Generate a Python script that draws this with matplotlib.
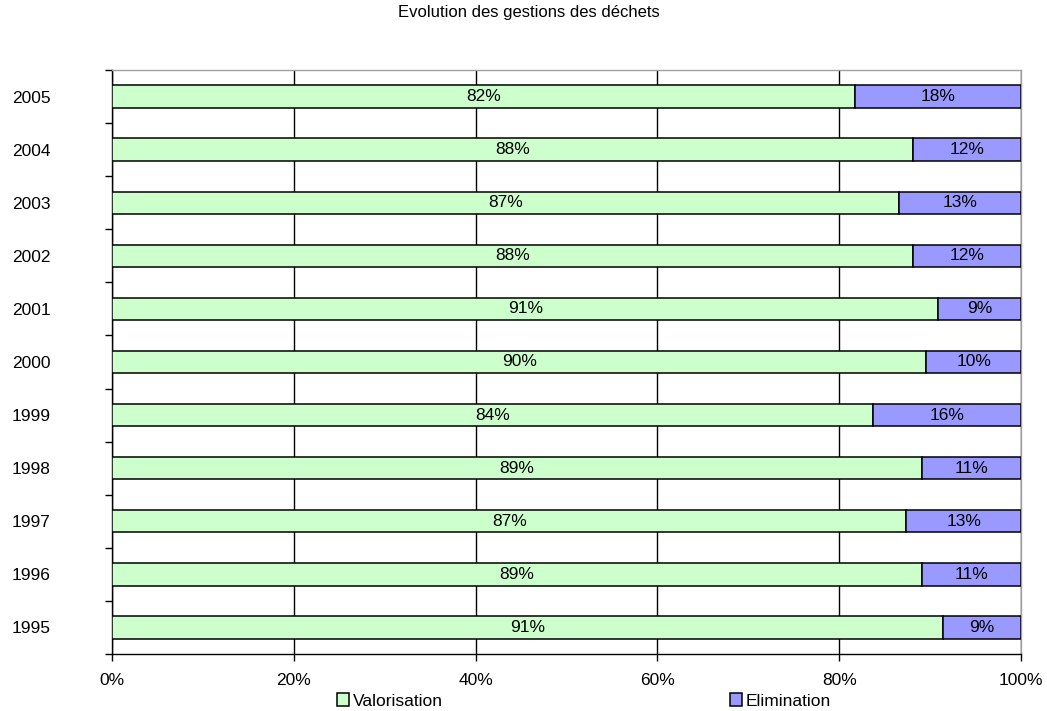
import matplotlib
matplotlib.use("Agg")
import matplotlib.pyplot as plt
from matplotlib.ticker import FixedLocator, FuncFormatter

years = ["1995", "1996", "1997", "1998", "1999", "2000", "2001", "2002", "2003", "2004", "2005"]
valorisation = [91.4, 89.1, 87.4, 89.1, 83.7, 89.6, 90.9, 88.1, 86.6, 88.1, 81.7]
elimination = [8.6, 10.9, 12.6, 10.9, 16.3, 10.4, 9.1, 11.9, 13.4, 11.9, 18.3]
series_names = ["Valorisation", "Elimination"]
colors = ["#CCFFCC", "#9999FF"]
title = "Evolution des gestions des déchets"

plt.rcParams['font.family'] = ['Liberation Sans', 'DejaVu Sans']

fig = plt.figure(figsize=(10.47, 7.11), dpi=100)
ax = fig.add_axes([112/1047, 1-654/711, (1021-112)/1047, (654-70)/711])

pos = list(range(len(years)))
h = 0.42
b1 = ax.barh(pos, valorisation, height=h, color=colors[0], edgecolor="black", linewidth=1.1, label=series_names[0], zorder=3)
b2 = ax.barh(pos, elimination, left=valorisation, height=h, color=colors[1], edgecolor="black", linewidth=1.1, label=series_names[1], zorder=3)

for i in pos:
    ax.text(valorisation[i] / 2, i, f"{round(valorisation[i])}%", ha="center", va="center", fontsize=12.5, zorder=4)
    ax.text(valorisation[i] + elimination[i] / 2, i, f"{round(elimination[i])}%", ha="center", va="center", fontsize=12.5, zorder=4)

ax.set_xlim(0, 100)
ax.set_ylim(-0.5, len(years) - 0.5)
ax.set_xticks([0, 20, 40, 60, 80, 100])
ax.xaxis.set_major_formatter(FuncFormatter(lambda v, p: f"{int(v)}%"))
ax.tick_params(axis="x", direction="out", length=5, width=1, pad=9, labelsize=12.5)

ax.set_yticks(pos)
ax.set_yticklabels(years)
ax.tick_params(axis="y", which="major", length=0, pad=44, labelsize=12.5)
ax.yaxis.set_minor_locator(FixedLocator([p - 0.5 for p in pos] + [len(years) - 0.5]))
ax.tick_params(axis="y", which="minor", direction="out", length=5, width=1)

ax.set_axisbelow(True)
ax.grid(axis="x", color="black", linewidth=1.0, zorder=0)

for s in ["left", "bottom"]:
    ax.spines[s].set_color("black")
    ax.spines[s].set_linewidth(1.0)
for s in ["top", "right"]:
    ax.spines[s].set_color("#A0A0A0")
    ax.spines[s].set_linewidth(1.0)

fig.text(529/1047, 1-13/711, title, ha="center", va="center", fontsize=12)

fig.legend(handles=[b1, b2], loc="center", bbox_to_anchor=(584/1047, 1-701/711), ncol=2,
           frameon=False, fontsize=12.5, handlelength=0.7, handleheight=0.7, handletextpad=0.25,
           columnspacing=16.5, borderpad=0)

fig.savefig("out.png", dpi=100)
